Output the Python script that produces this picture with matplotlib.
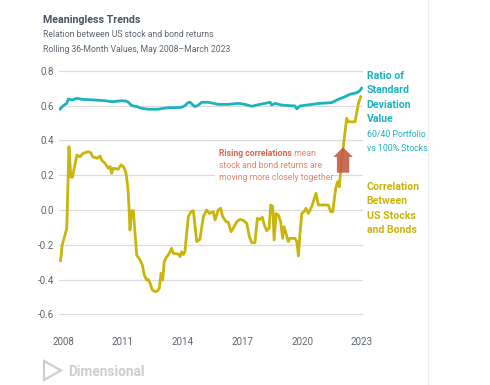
import matplotlib.pyplot as plt
from matplotlib.patches import Rectangle, FancyArrow, Polygon

plt.rcParams['font.family'] = ['Roboto', 'DejaVu Sans']

# Ratio of standard deviation, 60/40 portfolio vs 100% stocks
ratio_years = [2007.85, 2008.02, 2008.19, 2008.27, 2008.44, 2008.69, 2008.94, 2009.61,
               2010.11, 2010.44, 2010.95, 2011.16, 2011.28, 2011.45, 2011.70, 2011.95,
               2012.28, 2012.78, 2013.03, 2013.28, 2013.62, 2013.96, 2014.12, 2014.25,
               2014.37, 2014.52, 2014.62, 2014.79, 2014.96, 2015.29, 2015.79, 2016.29,
               2016.80, 2017.13, 2017.47, 2017.72, 2017.97, 2018.39, 2018.47, 2018.64,
               2018.97, 2019.30, 2019.64, 2019.73, 2019.89, 2020.48, 2020.90, 2021.48,
               2021.81, 2022.15, 2022.40, 2022.74, 2022.90, 2022.98]
ratio_values = [0.580, 0.600, 0.613, 0.638, 0.632, 0.642, 0.636, 0.632,
                0.628, 0.622, 0.628, 0.626, 0.619, 0.600, 0.594, 0.584,
                0.579, 0.579, 0.584, 0.588, 0.588, 0.590, 0.600, 0.615,
                0.620, 0.603, 0.594, 0.603, 0.619, 0.619, 0.607, 0.607,
                0.613, 0.607, 0.596, 0.603, 0.609, 0.619, 0.603, 0.613,
                0.603, 0.600, 0.598, 0.581, 0.598, 0.607, 0.613, 0.617,
                0.636, 0.651, 0.665, 0.674, 0.686, 0.700]

# Correlation between US stocks and bonds
corr_years = [2007.88, 2007.96, 2008.10, 2008.19, 2008.30, 2008.39, 2008.47, 2008.60,
              2008.70, 2008.85, 2009.02, 2009.27, 2009.39, 2009.49, 2009.64, 2009.72,
              2009.86, 2009.94, 2010.11, 2010.27, 2010.36, 2010.44, 2010.52, 2010.77,
              2010.91, 2011.03, 2011.15, 2011.25, 2011.31, 2011.36, 2011.45, 2011.53,
              2011.59, 2011.70, 2011.86, 2011.98, 2012.08, 2012.20, 2012.28, 2012.37,
              2012.48, 2012.62, 2012.75, 2012.83, 2012.92, 2013.00, 2013.08, 2013.20,
              2013.28, 2013.37, 2013.45, 2013.53, 2013.79, 2013.87, 2013.96, 2014.04,
              2014.12, 2014.21, 2014.29, 2014.42, 2014.54, 2014.71, 2014.87, 2015.04,
              2015.21, 2015.34, 2015.54, 2015.63, 2015.79, 2015.91, 2016.01, 2016.18,
              2016.29, 2016.43, 2016.54, 2016.72, 2016.88, 2017.05, 2017.22, 2017.35,
              2017.47, 2017.63, 2017.75, 2017.88, 2018.00, 2018.10, 2018.22, 2018.34,
              2018.42, 2018.52, 2018.59, 2018.69, 2018.80, 2018.92, 2019.02, 2019.09,
              2019.19, 2019.30, 2019.39, 2019.64, 2019.73, 2019.81, 2019.89, 2019.98,
              2020.09, 2020.19, 2020.31, 2020.48, 2020.56, 2020.69, 2020.81, 2020.98,
              2021.31, 2021.43, 2021.53, 2021.68, 2021.78, 2021.86, 2021.98, 2022.10,
              2022.23, 2022.31, 2022.65, 2022.73, 2022.82, 2022.94]
corr_values = [-0.290, -0.200, -0.144, -0.105, 0.364, 0.190, 0.188, 0.259,
               0.316, 0.306, 0.326, 0.335, 0.330, 0.306, 0.300, 0.297,
               0.310, 0.287, 0.268, 0.240, 0.250, 0.211, 0.240, 0.234,
               0.259, 0.249, 0.220, 0.134, 0.020, -0.115, -0.005, -0.005,
               -0.096, -0.259, -0.287, -0.316, -0.374, -0.402, -0.400, -0.421,
               -0.460, -0.469, -0.465, -0.450, -0.364, -0.402, -0.297, -0.268,
               -0.259, -0.240, -0.220, -0.249, -0.253, -0.268, -0.240, -0.255,
               -0.240, -0.125, -0.038, -0.010, -0.004, -0.182, -0.168, -0.038,
               0.000, -0.020, -0.010, -0.057, 0.000, 0.010, -0.038, -0.067,
               -0.070, -0.125, -0.105, -0.067, -0.054, -0.060, -0.077, -0.153,
               -0.188, -0.188, -0.048, -0.054, -0.042, -0.086, -0.119, -0.105,
               0.029, 0.020, -0.172, -0.020, -0.029, -0.067, -0.163, -0.096,
               -0.134, -0.182, -0.163, -0.163, -0.182, -0.264, -0.134, -0.020,
               -0.010, 0.010, -0.020, 0.020, 0.048, 0.096, 0.029, 0.029,
               0.029, -0.010, -0.010, 0.125, 0.163, 0.134, 0.287, 0.402,
               0.527, 0.507, 0.507, 0.556, 0.613, 0.651]

year_ticks = [2008, 2011, 2014, 2017, 2020, 2023]
value_ticks = [-0.6, -0.4, -0.2, 0.0, 0.2, 0.4, 0.6, 0.8]

teal = '#1cb3bf'
gold = '#c9b50c'
salmon = '#d4674f'
salmon_light = '#de8671'
dark = '#4a545e'
grey = '#5d666f'

W, H = 490, 385
fig = plt.figure(figsize=(W / 100, H / 100), dpi=100)


def fx(px):
    return px / W


def fy(py):
    return 1 - py / H


# axes box: 0.82 -> y=67.3px, -0.62 -> y=317.9px ; 2007.8 -> x=59, 2023.05 -> x=363
ax = fig.add_axes([fx(59), fy(317.9), (363 - 59) / W, (317.9 - 67.3) / H])
ax.set_xlim(2007.8, 2023.05)
ax.set_ylim(-0.62, 0.82)

ax.plot(ratio_years, ratio_values, color=teal, lw=2.0, solid_joinstyle='round', zorder=3)
ax.plot(corr_years, corr_values, color=gold, lw=2.0, solid_joinstyle='round', zorder=3)

ax.set_xticks(year_ticks)
ax.set_xticklabels([str(y) for y in year_ticks])
ax.set_yticks(value_ticks)
ax.set_yticklabels([f'{v:.1f}' for v in value_ticks])
ax.tick_params(axis='both', length=0, labelsize=7, labelcolor=grey)
ax.tick_params(axis='x', pad=13.5)
ax.tick_params(axis='y', pad=3.6)
ax.grid(axis='y', color='#dcdcdc', lw=0.9)
ax.set_axisbelow(True)
for s in ax.spines.values():
    s.set_visible(False)

# white box behind the annotation
ax.add_patch(Rectangle((fx(215), fy(185)), (333 - 215) / W, (185 - 145) / H,
                       transform=fig.transFigure, facecolor='white',
                       edgecolor='none', zorder=1))

# arrow
ax.add_patch(FancyArrow(2022.05, 0.214, 0, 0.146, width=0.62, head_width=0.98,
                        head_length=0.055, length_includes_head=True,
                        color='#bf5a42', alpha=0.88, lw=0, zorder=4))

# annotation text
ann_size = 6.2
t1 = fig.text(fx(219.3), fy(155.7), 'Rising correlations', fontsize=ann_size,
              fontweight='bold', color=salmon, va='baseline', ha='left')
ax.annotate(' mean', xy=(1, 0), xycoords=t1, fontsize=ann_size, color=salmon_light,
            va='bottom', ha='left')
fig.text(fx(219.3), fy(167.9), 'stock and bond returns are', fontsize=ann_size,
         color=salmon_light, va='baseline', ha='left')
fig.text(fx(219.3), fy(180.1), 'moving more closely together', fontsize=ann_size,
         color=salmon_light, va='baseline', ha='left')

# right side labels
for i, line in enumerate(['Ratio of', 'Standard', 'Deviation', 'Value']):
    fig.text(fx(366.5), fy(78.7 + 14.4 * i), line, fontsize=7.6, fontweight='bold',
             color=teal, va='baseline', ha='left')
for i, line in enumerate(['60/40 Portfolio', 'vs 100% Stocks']):
    fig.text(fx(366.5), fy(137.3 + 13.4 * i), line, fontsize=6.3, color=teal,
             va='baseline', ha='left')
for i, line in enumerate(['Correlation', 'Between', 'US Stocks', 'and Bonds']):
    fig.text(fx(366.5), fy(190 + 14.3 * i), line, fontsize=7.6, fontweight='bold',
             color=gold, va='baseline', ha='left')

# titles
fig.text(fx(43), fy(22.7), 'Meaningless Trends', fontsize=7.7, fontweight='bold',
         color=dark, va='baseline', ha='left')
fig.text(fx(43), fy(36.8), 'Relation between US stock and bond returns', fontsize=6.2,
         color=grey, va='baseline', ha='left')
fig.text(fx(43), fy(51.6), 'Rolling 36-Month Values, May 2008\u2013March 2023',
         fontsize=6.2, color=grey, va='baseline', ha='left')

# logo
fig.patches.append(Polygon([(fx(44), fy(361)), (fx(44), fy(380)), (fx(61), fy(370.5))],
                           closed=True, transform=fig.transFigure, fill=False,
                           edgecolor='#cfcfcf', lw=1.6))
fig.text(fx(68), fy(376), 'Dimensional', fontsize=9.8, fontweight='bold',
         color='#cdcdcd', va='baseline', ha='left')

# faint border line on the right
fig.add_artist(plt.Line2D([fx(428), fx(428)], [0, 1], transform=fig.transFigure,
                          color='#efefef', lw=0.8))

fig.savefig('out.png', dpi=100)
